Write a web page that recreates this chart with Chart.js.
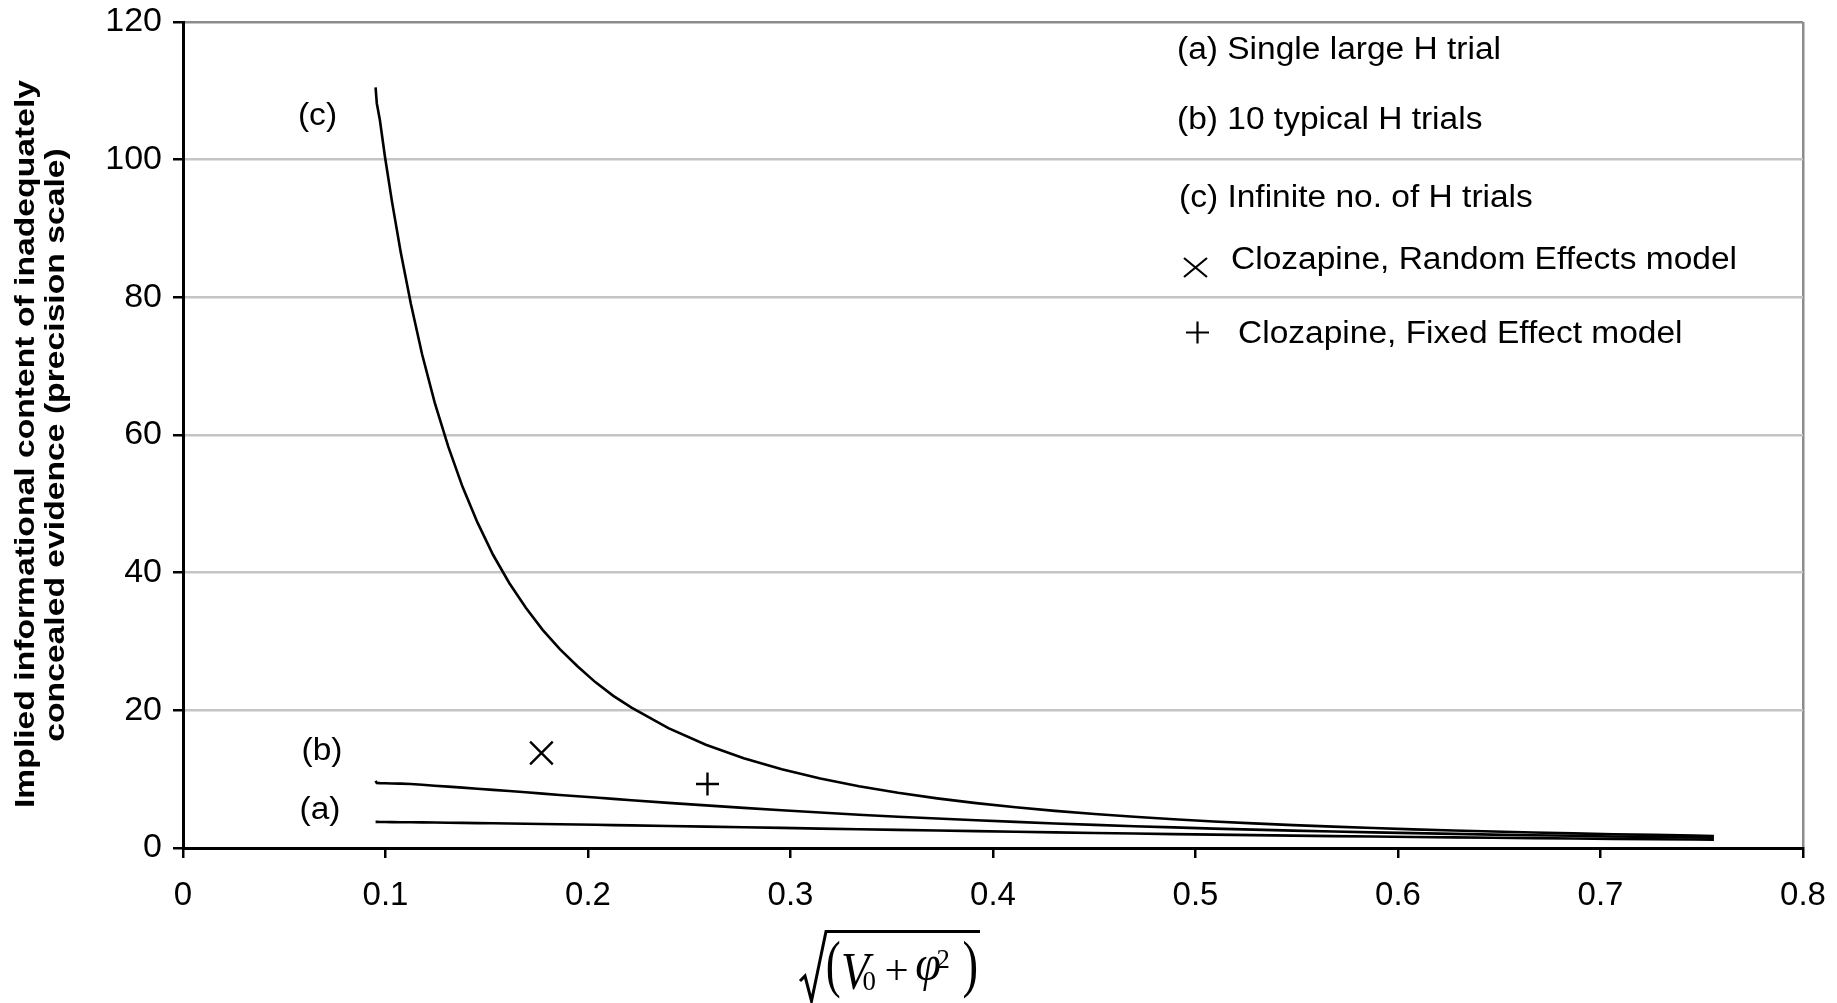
<!DOCTYPE html>
<html>
<head>
<meta charset="utf-8">
<script src="https://cdn.jsdelivr.net/npm/chart.js@4.4.1/dist/chart.umd.min.js"></script>
<style>
html,body{margin:0;padding:0;background:#fff;overflow:hidden}
canvas{display:block}
</style>
</head>
<body>
<canvas id="c" width="1837" height="1003"></canvas>
<script>
// ---- data ----
const xValues = [0.0951, 0.0957, 0.0972, 0.0997, 0.1032, 0.1075, 0.1125, 0.1181, 0.1243, 0.1310,
  0.1380, 0.1454, 0.1531, 0.1611, 0.1693, 0.1776, 0.1861, 0.1948, 0.2036, 0.2125,
  0.2215, 0.2397, 0.2582, 0.2769, 0.2957, 0.3147, 0.3338, 0.3531, 0.3724, 0.3917,
  0.4112, 0.4306, 0.4502, 0.4697, 0.4893, 0.5090, 0.5286, 0.5483, 0.5680, 0.5878,
  0.6075, 0.6273, 0.6470, 0.6668, 0.6866, 0.7064, 0.7263, 0.7461, 0.7560];
const seriesA = [3.79, 3.79, 3.78, 3.77, 3.76, 3.75, 3.74, 3.72, 3.70, 3.67,
  3.65, 3.62, 3.59, 3.56, 3.53, 3.49, 3.45, 3.41, 3.37, 3.33,
  3.29, 3.20, 3.11, 3.02, 2.92, 2.82, 2.73, 2.63, 2.54, 2.45,
  2.36, 2.27, 2.19, 2.10, 2.02, 1.95, 1.87, 1.80, 1.73, 1.67,
  1.60, 1.54, 1.48, 1.43, 1.38, 1.33, 1.28, 1.23, 1.21];
const seriesB = [9.75, 9.45, 9.42, 9.40, 9.38, 9.35, 9.29, 9.18, 9.05, 8.92,
  8.77, 8.61, 8.44, 8.27, 8.09, 7.90, 7.71, 7.52, 7.33, 7.14,
  6.94, 6.56, 6.19, 5.83, 5.48, 5.15, 4.84, 4.55, 4.28, 4.03,
  3.79, 3.57, 3.36, 3.17, 2.99, 2.82, 2.67, 2.53, 2.39, 2.27,
  2.16, 2.05, 1.95, 1.85, 1.77, 1.68, 1.61, 1.54, 1.50];
const seriesC = [110.5, 108.2, 105.8, 100.5, 93.9, 86.6, 79.1, 71.7, 64.7, 58.3,
  52.5, 47.3, 42.6, 38.5, 34.9, 31.7, 28.9, 26.4, 24.1, 22.1,
  20.4, 17.41, 15.00, 13.05, 11.44, 10.10, 8.97, 8.02, 7.21, 6.52,
  5.92, 5.39, 4.94, 4.53, 4.18, 3.86, 3.58, 3.33, 3.10, 2.90,
  2.71, 2.54, 2.39, 2.25, 2.12, 2.00, 1.90, 1.80, 1.75];
const randomEffectsPoint = [0.177, 13.8];
const fixedEffectPoint = [0.259, 9.3];
const xTickValues = [0, 0.1, 0.2, 0.3, 0.4, 0.5, 0.6, 0.7, 0.8];
const yTickValues = [0, 20, 40, 60, 80, 100, 120];
const legendTexts = ['(a) Single large H trial', '(b) 10 typical H trials', '(c) Infinite no. of H trials',
  'Clozapine, Random Effects model', 'Clozapine, Fixed Effect model'];
const curveLabels = ['(a)', '(b)', '(c)'];
const yTitleLines = ['Implied informational content of inadequately', 'concealed evidence (precision scale)'];

const SANS = "'Liberation Sans', Arial, Helvetica, sans-serif";
const SERIF = "'Liberation Serif', 'Times New Roman', serif";

function pts(ys) { return xValues.map((x, i) => ({ x: x, y: ys[i] })); }

function fitGlyph(ctx, s, font, x0, y0, x1, y1) {
  ctx.save();
  ctx.font = font;
  ctx.textAlign = 'left';
  ctx.textBaseline = 'alphabetic';
  const m = ctx.measureText(s);
  const w = m.actualBoundingBoxLeft + m.actualBoundingBoxRight;
  const h = m.actualBoundingBoxAscent + m.actualBoundingBoxDescent;
  ctx.translate(x0, y0);
  ctx.scale((x1 - x0) / w, (y1 - y0) / h);
  ctx.fillText(s, m.actualBoundingBoxLeft, m.actualBoundingBoxAscent);
  ctx.restore();
}

const annotations = {
  id: 'annotations',
  afterDraw(chart) {
    const ctx = chart.ctx;
    ctx.save();
    ctx.fillStyle = '#000';
    ctx.strokeStyle = '#000';
    ctx.font = '31px ' + SANS;
    const sx = 506 / ctx.measureText(legendTexts[3]).width;
    function txt(s, x, y, align) {
      ctx.save();
      ctx.font = '31px ' + SANS;
      ctx.translate(x, y);
      ctx.scale(sx, 1);
      ctx.textAlign = align || 'left';
      ctx.textBaseline = 'alphabetic';
      ctx.fillText(s, 0, 0);
      ctx.restore();
    }
    // legend
    txt(legendTexts[0], 1177, 58.5);
    txt(legendTexts[1], 1177, 128.5);
    txt(legendTexts[2], 1179, 206.8);
    txt(legendTexts[3], 1231, 269.3);
    txt(legendTexts[4], 1238, 343);
    ctx.lineWidth = 2.2;
    ctx.beginPath();
    ctx.moveTo(1184, 258); ctx.lineTo(1207, 277);
    ctx.moveTo(1184, 277); ctx.lineTo(1207, 258);
    ctx.moveTo(1186, 332.5); ctx.lineTo(1209, 332.5);
    ctx.moveTo(1197.5, 321.5); ctx.lineTo(1197.5, 343.5);
    ctx.stroke();
    // curve labels
    txt(curveLabels[2], 317.5, 125, 'center');
    txt(curveLabels[1], 322, 760, 'center');
    txt(curveLabels[0], 320, 818.5, 'center');
    // y title
    ctx.font = 'bold 28px ' + SANS;
    const s1 = 728 / ctx.measureText(yTitleLines[0]).width;
    [[yTitleLines[0], 26, 444], [yTitleLines[1], 56, 445]].forEach(([t, x, y]) => {
      ctx.save();
      ctx.font = 'bold 28px ' + SANS;
      ctx.translate(x, y);
      ctx.rotate(-Math.PI / 2);
      ctx.scale(s1, 1);
      ctx.textAlign = 'center';
      ctx.textBaseline = 'middle';
      ctx.fillText(t, 0, 0);
      ctx.restore();
    });
    // x title: sqrt((V0 + phi^2))
    ctx.lineWidth = 3;
    ctx.lineJoin = 'miter';
    ctx.beginPath();
    ctx.moveTo(800, 981);
    ctx.lineTo(805, 976);
    ctx.lineTo(811.5, 1001);
    ctx.lineTo(826, 931.5);
    ctx.lineTo(980, 931.5);
    ctx.stroke();
    fitGlyph(ctx, '(', '56px ' + SERIF, 827.3, 939.3, 839.3, 1000);
    fitGlyph(ctx, 'V', 'italic 56px ' + SERIF, 842.7, 953.3, 874, 990);
    fitGlyph(ctx, '0', '56px ' + SERIF, 863.5, 971, 875, 990.7);
    fitGlyph(ctx, '+', '56px ' + SERIF, 886, 960, 906.7, 980);
    fitGlyph(ctx, 'φ', 'italic 56px ' + SERIF, 916, 955, 940, 990.7);
    fitGlyph(ctx, '2', '56px ' + SERIF, 937.5, 950, 948.5, 968.3);
    fitGlyph(ctx, ')', '56px ' + SERIF, 963.3, 939.3, 976.7, 1000);
    ctx.restore();
  }
};

const lineStyle = { showLine: true, borderColor: '#000', borderWidth: 2.6, pointRadius: 0, pointHoverRadius: 0, fill: false, tension: 0 };

function noPad(s) { s.paddingLeft = 0; s.paddingRight = 0; s.paddingTop = 0; s.paddingBottom = 0; }

new Chart(document.getElementById('c'), {
  type: 'scatter',
  data: {
    datasets: [
      Object.assign({ label: '(a) Single large H trial', data: pts(seriesA) }, lineStyle),
      Object.assign({ label: '(b) 10 typical H trials', data: pts(seriesB) }, lineStyle),
      Object.assign({ label: '(c) Infinite no. of H trials', data: pts(seriesC) }, lineStyle),
      { label: 'Clozapine, Random Effects model', data: [{ x: randomEffectsPoint[0], y: randomEffectsPoint[1] }],
        pointStyle: 'crossRot', pointRadius: 16, borderColor: '#000', backgroundColor: '#000', borderWidth: 2.4 },
      { label: 'Clozapine, Fixed Effect model', data: [{ x: fixedEffectPoint[0], y: fixedEffectPoint[1] }],
        pointStyle: 'cross', pointRadius: 11.5, borderColor: '#000', backgroundColor: '#000', borderWidth: 2.4 }
    ]
  },
  options: {
    responsive: false,
    devicePixelRatio: 1,
    animation: false,
    layout: { padding: { left: 0, top: 22, right: 34, bottom: 0 } },
    plugins: { legend: { display: false }, tooltip: { enabled: false } },
    scales: {
      x: {
        type: 'linear', min: 0, max: 0.8,
        afterBuildTicks: (s) => { s.ticks = xTickValues.map(v => ({ value: v })); },
        afterFit: (s) => { s.height = 155; noPad(s); },
        border: { display: true, color: '#000', width: 3 },
        grid: {
          drawOnChartArea: true, drawTicks: true, tickLength: 10, tickWidth: 2.5, tickColor: '#000',
          color: (c) => (c.tick && c.tick.value === 0.8) ? '#8c8c8c' : 'rgba(0,0,0,0)',
          lineWidth: 2.5
        },
        ticks: {
          color: '#000', padding: 18, maxRotation: 0, autoSkip: false,
          font: { family: SANS, size: 33 },
          callback: (v) => v === 0 ? '0' : Number(v).toFixed(1)
        }
      },
      y: {
        type: 'linear', min: 0, max: 120,
        afterBuildTicks: (s) => { s.ticks = yTickValues.map(v => ({ value: v })); },
        afterFit: (s) => { s.width = 183; noPad(s); },
        border: { display: true, color: '#000', width: 3 },
        grid: {
          drawOnChartArea: true, drawTicks: true, tickLength: 10, tickWidth: 2.5, tickColor: '#000',
          color: (c) => {
            if (!c.tick) return 'rgba(0,0,0,0)';
            if (c.tick.value === 120) return '#8c8c8c';
            if (c.tick.value === 0) return 'rgba(0,0,0,0)';
            return '#c4c4c4';
          },
          lineWidth: 2.5
        },
        ticks: {
          color: '#000', padding: 11,
          font: { family: SANS, size: 34 },
          callback: (v) => String(v)
        }
      }
    }
  },
  plugins: [annotations]
});
</script>
</body>
</html>
